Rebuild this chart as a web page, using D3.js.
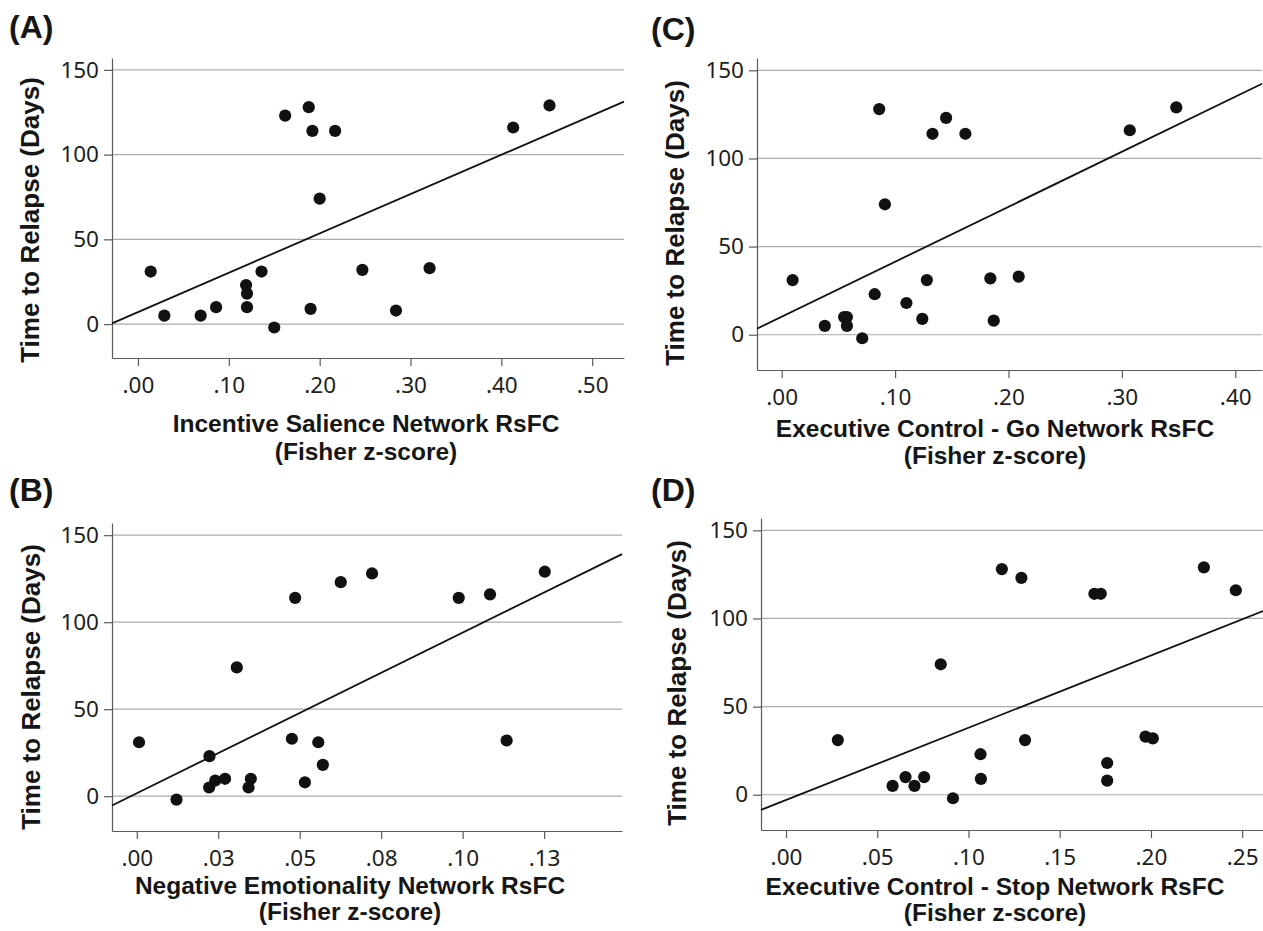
<!DOCTYPE html>
<html>
<head>
<meta charset="utf-8">
<script src="https://cdn.jsdelivr.net/npm/d3@7"></script>
<style>
  body { margin: 0; background: #fff; }
  .tick text { font-family: 'Noto Sans', sans-serif; font-size: 22.5px; fill: #1e1e1e; }
  .ttl { font-family: 'Liberation Sans', Arial, sans-serif; font-weight: bold; fill: #161616; }
</style>
</head>
<body>
<div class="chart"></div>
<script>
// time to relapse (days), one value per participant, in plot order
var daysA = [31, 5, 5, 10, 23, 18, 10, 31, -2, 123, 128, 114, 114, 74, 9, 32, 8, 33, 116, 129];
var daysB = [31, -2, 23, 5, 9, 10, 5, 10, 74, 33, 114, 8, 31, 18, 123, 128, 114, 116, 32, 129];
var daysC = [31, 5, 10, 10, 5, -2, 23, 128, 74, 18, 9, 31, 114, 123, 114, 32, 8, 33, 116, 129];
var daysD = [31, 5, 10, 5, 10, 74, -2, 23, 9, 128, 123, 31, 114, 114, 18, 8, 33, 32, 129, 116];

// network RsFC (Fisher z-score)
var rsfcA = [0.014, 0.029, 0.069, 0.086, 0.119, 0.120, 0.120, 0.136, 0.150, 0.162,
             0.188, 0.192, 0.217, 0.200, 0.190, 0.247, 0.284, 0.321, 0.413, 0.453];
var rsfcB = [0.0007, 0.0122, 0.0223, 0.0222, 0.0241, 0.0271, 0.0343, 0.0350, 0.0307, 0.0476,
             0.0486, 0.0516, 0.0557, 0.0571, 0.0626, 0.0722, 0.0988, 0.1084, 0.1135, 0.1252];
var rsfcC = [0.0096, 0.038, 0.055, 0.0575, 0.0575, 0.071, 0.082, 0.086, 0.091, 0.110,
             0.124, 0.128, 0.133, 0.145, 0.162, 0.184, 0.187, 0.209, 0.307, 0.348];
var rsfcD = [0.0284, 0.0584, 0.0655, 0.0704, 0.0757, 0.0848, 0.0915, 0.1066, 0.1068, 0.1183,
             0.129, 0.131, 0.169, 0.1725, 0.176, 0.176, 0.197, 0.201, 0.229, 0.2465];

// fit lines [intercept, slope]
var fitA = [7.1, 232];
var fitB = [1.7, 923];
var fitC = [10.2, 312];
var fitD = [-3.0, 410];

// tick values & labels
var yTicks = [0, 50, 100, 150];
var xTicksA = [0, 0.1, 0.2, 0.3, 0.4, 0.5];
var xLabelsA = ['.00', '.10', '.20', '.30', '.40', '.50'];
var xTicksB = [0, 0.025, 0.05, 0.075, 0.1, 0.125];
var xLabelsB = ['.00', '.03', '.05', '.08', '.10', '.13'];
var xTicksC = [0, 0.1, 0.2, 0.3, 0.4];
var xLabelsC = ['.00', '.10', '.20', '.30', '.40'];
var xTicksD = [0, 0.05, 0.1, 0.15, 0.2, 0.25];
var xLabelsD = ['.00', '.05', '.10', '.15', '.20', '.25'];

var yTitle = 'Time to Relapse (Days)';
var xSub = '(Fisher z-score)';

/*-------------------------------------------------------*/
var svg = d3.select('.chart').append('svg')
    .attr('width', 1263)
    .attr('height', 931);

var panels = [
    { tag: '(A)', xs: rsfcA, ys: daysA, fit: fitA, ticks: xTicksA, labels: xLabelsA,
      title: 'Incentive Salience Network RsFC',
      xDom: [-0.0286, 0.535], xRng: [112, 624], yRng: [358, 58],
      tagPos: [9, 38], yTtl: [39, 220], xTtl: [366, 432, 460] },
    { tag: '(B)', xs: rsfcB, ys: daysB, fit: fitB, ticks: xTicksB, labels: xLabelsB,
      title: 'Negative Emotionality Network RsFC',
      xDom: [-0.0076, 0.1489], xRng: [112, 622], yRng: [831, 523],
      tagPos: [9, 501], yTtl: [40, 687], xTtl: [350, 894, 920] },
    { tag: '(C)', xs: rsfcC, ys: daysC, fit: fitC, ticks: xTicksC, labels: xLabelsC,
      title: 'Executive Control - Go Network RsFC',
      xDom: [-0.0218, 0.4236], xRng: [757, 1262], yRng: [370, 58],
      tagPos: [651, 40], yTtl: [684, 223], xTtl: [995, 437, 464] },
    { tag: '(D)', xs: rsfcD, ys: daysD, fit: fitD, ticks: xTicksD, labels: xLabelsD,
      title: 'Executive Control - Stop Network RsFC',
      xDom: [-0.0137, 0.2614], xRng: [761, 1263], yRng: [830, 518],
      tagPos: [651, 501], yTtl: [686, 683], xTtl: [995, 895, 921] }
];

panels.forEach((p) => { drawPanel(p); });

// panel config -> scatter with fit line
function drawPanel(p){
    var x = d3.scaleLinear().domain(p.xDom).range(p.xRng);
    var y = d3.scaleLinear().domain([-20, 157]).range(p.yRng);
    var g = svg.append('g');

    // horizontal grid
    g.selectAll('.grid')
        .data(yTicks)
        .enter().append('line')
        .attr('x1', p.xRng[0]).attr('x2', p.xRng[1])
        .attr('y1', (d) => { return y(d); })
        .attr('y2', (d) => { return y(d); })
        .attr('stroke', '#ababab')
        .attr('stroke-width', 1.2);

    // axes
    var ax = g.append('g')
        .attr('transform', `translate(0, ${p.yRng[0]})`)
        .call(d3.axisBottom(x).tickValues(p.ticks)
            .tickFormat((d, i) => { return p.labels[i]; })
            .tickSize(8).tickSizeOuter(0).tickPadding(11));
    var ay = g.append('g')
        .attr('transform', `translate(${p.xRng[0]}, 0)`)
        .call(d3.axisLeft(y).tickValues(yTicks)
            .tickSize(8).tickSizeOuter(0).tickPadding(5));
    [ax, ay].forEach((a) => {
        a.selectAll('path, line').attr('stroke', '#5a5a5a').attr('stroke-width', 1.2);
        a.attr('font-family', null).attr('font-size', null);
    });

    // fit line across the whole plot
    g.append('line')
        .attr('x1', x(p.xDom[0])).attr('y1', y(p.fit[0] + p.fit[1] * p.xDom[0]))
        .attr('x2', x(p.xDom[1])).attr('y2', y(p.fit[0] + p.fit[1] * p.xDom[1]))
        .attr('stroke', '#111')
        .attr('stroke-width', 1.8);

    // points
    g.selectAll('.dot')
        .data(p.xs.map((v, i) => { return { x: v, y: p.ys[i] }; }))
        .enter().append('circle')
        .attr('cx', (d) => { return x(d.x); })
        .attr('cy', (d) => { return y(d.y); })
        .attr('r', 6.1)
        .attr('fill', '#111');

    // labels
    g.append('text').attr('class', 'ttl')
        .attr('x', p.tagPos[0]).attr('y', p.tagPos[1])
        .style('font-size', '32px')
        .text(p.tag);
    g.append('text').attr('class', 'ttl')
        .attr('transform', `translate(${p.yTtl[0]}, ${p.yTtl[1]}) rotate(-90)`)
        .attr('text-anchor', 'middle')
        .style('font-size', '26px')
        .text(yTitle);
    g.append('text').attr('class', 'ttl')
        .attr('x', p.xTtl[0]).attr('y', p.xTtl[1])
        .attr('text-anchor', 'middle')
        .style('font-size', '24.5px')
        .text(p.title);
    g.append('text').attr('class', 'ttl')
        .attr('x', p.xTtl[0]).attr('y', p.xTtl[2])
        .attr('text-anchor', 'middle')
        .style('font-size', '24.5px')
        .text(xSub);
}
</script>
</body>
</html>
